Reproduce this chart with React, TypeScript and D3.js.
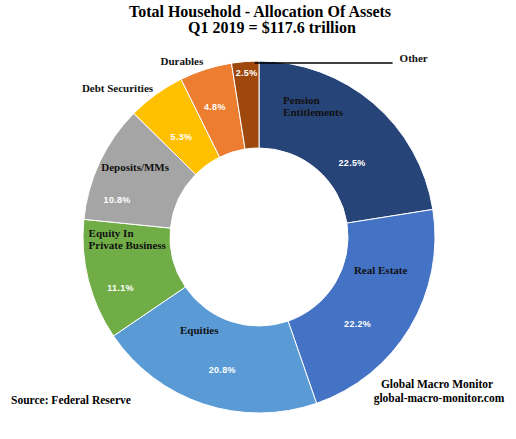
import React from "react";
import * as d3 from "d3";

// Asset categories, clockwise from 12 o'clock
const categories = [
  "Pension Entitlements",
  "Real Estate",
  "Equities",
  "Equity In Private Business",
  "Deposits/MMs",
  "Debt Securities",
  "Durables",
  "Other",
];
const shares = [22.5, 22.2, 20.8, 11.1, 10.8, 5.3, 4.8, 2.5];
const nameLines = [
  ["Pension", "Entitlements"],
  ["Real Estate"],
  ["Equities"],
  ["Equity In", "Private Business"],
  ["Deposits/MMs"],
  ["Debt Securities"],
  ["Durables"],
  ["Other"],
];

const colors = [
  "#264478",
  "#4472C4",
  "#5B9BD5",
  "#70AD47",
  "#A5A5A5",
  "#FFC000",
  "#ED7D31",
  "#9E480E",
];

// label nudges relative to each slice centroid (Excel-style placement)
const nameNudge: { dx: number; dy: number; anchor: string }[] = [
  { dx: -62, dy: -32, anchor: "start" },
  { dx: 8, dy: -31, anchor: "middle" },
  { dx: -18, dy: -29, anchor: "middle" },
  { dx: -42, dy: -33, anchor: "start" },
  { dx: -4, dy: -10, anchor: "middle" },
  { dx: -64, dy: -38, anchor: "middle" },
  { dx: -37, dy: -46, anchor: "middle" },
  { dx: 151, dy: -43, anchor: "start" },
];
const pctNudge = [
  [7, 30],
  [-15, 22],
  [5, 10],
  [-10, 21],
  [-22, 22],
  [0, 10],
  [-4, -1],
  [-2, -29],
];

const W = 516;
const H = 439;
const cx = 259;
const cy = 237;
const outerR = 176;
const innerR = 89;

export default function App() {
  const pie = d3
    .pie<number>()
    .value((d) => d)
    .sort(null)
    .startAngle(0)
    .endAngle(2 * Math.PI);
  const arcs = pie(shares);
  const arc = d3
    .arc<d3.PieArcDatum<number>>()
    .innerRadius(innerR)
    .outerRadius(outerR);

  const serif = "'Liberation Serif', 'Times New Roman', serif";
  const sans = "'Liberation Sans', Arial, sans-serif";

  return (
    <div style={{ position: "fixed", left: 0, top: 0, width: W, height: H, background: "#fff" }}>
      <svg width={W} height={H} viewBox={`0 0 ${W} ${H}`}>
        <rect width={W} height={H} fill="#fff" />
        <text x={260} y={17} textAnchor="middle" fontFamily={serif} fontWeight="bold" fontSize={16}>
          Total Household - Allocation Of Assets
        </text>
        <text x={272} y={33} textAnchor="middle" fontFamily={serif} fontWeight="bold" fontSize={16}>
          Q1 2019 = $117.6 trillion
        </text>

        <g transform={`translate(${cx},${cy})`}>
          {arcs.map((a, i) => (
            <path key={categories[i]} d={arc(a) ?? ""} fill={colors[i]} stroke="#fff" strokeWidth={1} />
          ))}
          {arcs.map((a, i) => {
            const [x, y] = arc.centroid(a);
            const n = nameNudge[i];
            return (
              <g key={"lab" + i}>
                {nameLines[i].map((ln, j) => (
                  <text
                    key={j}
                    x={x + n.dx}
                    y={y + n.dy + j * 12}
                    textAnchor={n.anchor as any}
                    fontFamily={serif}
                    fontWeight="bold"
                    fontSize={11}
                    fill="#111"
                  >
                    {ln}
                  </text>
                ))}
                <text
                  x={x + pctNudge[i][0]}
                  y={y + pctNudge[i][1]}
                  textAnchor="middle"
                  fontFamily={sans}
                  fontWeight="bold"
                  fontSize={9}
                  fill="#fff"
                  letterSpacing={0.3}
                >
                  {shares[i].toFixed(1)}%
                </text>
                {i === categories.length - 1 && (
                  <line
                    x1={x + 6}
                    x2={x + 144}
                    y1={y - 42}
                    y2={y - 42}
                    stroke="#000"
                    strokeWidth={1.5}
                  />
                )}
              </g>
            );
          })}
        </g>

        <text x={11} y={404} fontFamily={serif} fontWeight="bold" fontSize={11.5}>
          Source: Federal Reserve
        </text>
        <text x={437} y={388} textAnchor="middle" fontFamily={serif} fontWeight="bold" fontSize={11.5}>
          Global Macro Monitor
        </text>
        <text x={439} y={402} textAnchor="middle" fontFamily={serif} fontWeight="bold" fontSize={11.5}>
          global-macro-monitor.com
        </text>
      </svg>
    </div>
  );
}
